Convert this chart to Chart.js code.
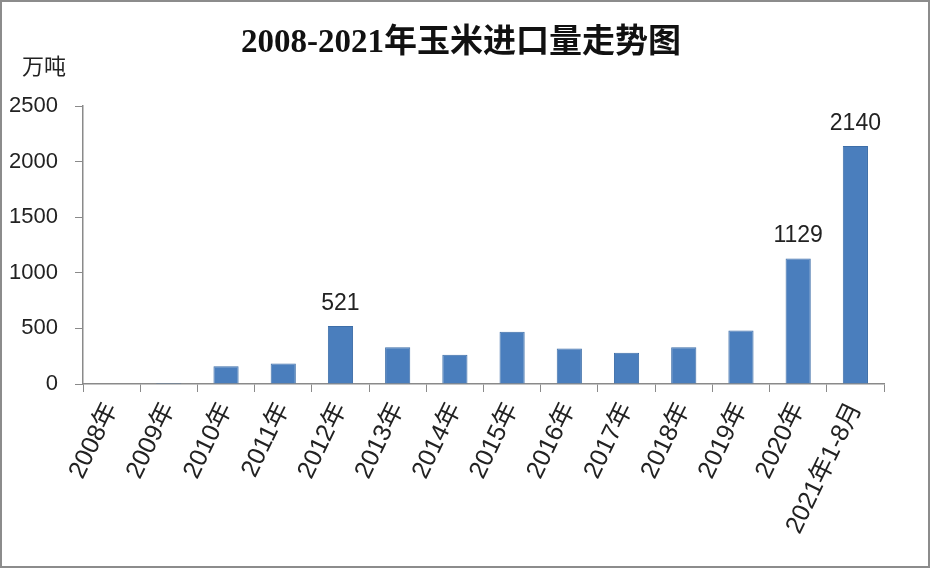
<!DOCTYPE html>
<html>
<head>
<meta charset="utf-8">
<script src="https://cdn.jsdelivr.net/npm/chart.js@4/dist/chart.umd.min.js"></script>
<style>
  html, body { margin: 0; padding: 0; background: #fff; }
  #wrap { position: relative; width: 930px; height: 568px; }
  #frame { position: absolute; left: 0; top: 0; width: 930px; height: 568px; box-sizing: border-box; border: 2px solid #8c8c8c; pointer-events: none; }
</style>
</head>
<body>
<div id="wrap">
  <canvas id="chart" width="930" height="568"></canvas>
  <div id="frame"></div>
</div>
<script>
// categories and values (万吨)
const years = ['2008年', '2009年', '2010年', '2011年', '2012年', '2013年', '2014年',
               '2015年', '2016年', '2017年', '2018年', '2019年', '2020年', '2021年1-8月'];
const imports = [5, 8, 160, 185, 521, 330, 264, 470, 320, 280, 330, 480, 1129, 2140];
// only some bars carry a value label
const valueLabels = ['', '', '', '', '521', '', '', '', '', '', '', '', '1129', '2140'];
const yTicks = [0, 500, 1000, 1500, 2000, 2500];

const titleText = '2008-2021年玉米进口量走势图';
const unitText = '万吨';
const textFont = "'Liberation Sans', 'Noto Sans CJK SC', sans-serif";

// title, unit label and the labels above the bars
const extraText = {
    id: 'extraText',
    afterDatasetsDraw(chart) {
        const ctx = chart.ctx;
        ctx.save();
        ctx.fillStyle = '#111';
        ctx.font = "bold 33px 'Liberation Serif', 'Noto Sans CJK SC', serif";
        ctx.textAlign = 'center';
        ctx.textBaseline = 'middle';
        ctx.fillText(titleText, 461, 43);

        ctx.fillStyle = '#222';
        ctx.font = '22px ' + textFont;
        ctx.textAlign = 'left';
        ctx.fillText(unitText, 22, 68);

        ctx.font = '23px ' + textFont;
        ctx.textAlign = 'center';
        ctx.textBaseline = 'alphabetic';
        const bars = chart.getDatasetMeta(0).data;
        bars.forEach(function(bar, i) {
            if (valueLabels[i]) {
                ctx.fillText(valueLabels[i], bar.x, bar.y - 16);
            }
        });
        ctx.restore();
    }
};

const ctx = document.getElementById('chart').getContext('2d');
new Chart(ctx, {
    type: 'bar',
    data: {
        labels: years,
        datasets: [{
            data: imports,
            backgroundColor: '#4a7ebd',
            borderColor: '#3d6ea8',
            borderWidth: 1,
            barPercentage: 0.44,
            categoryPercentage: 1
        }]
    },
    options: {
        responsive: false,
        animation: false,
        layout: { padding: { left: 0, right: 46, top: 106, bottom: 0 } },
        plugins: {
            legend: { display: false },
            tooltip: { enabled: false },
            title: { display: false }
        },
        scales: {
            x: {
                grid: { offset: true, drawOnChartArea: false, tickLength: 8, color: '#8a8a8a' },
                border: { color: '#8a8a8a', width: 1.5 },
                ticks: {
                    color: '#222',
                    font: { size: 25, family: textFont },
                    minRotation: 64,
                    maxRotation: 64,
                    padding: 6,
                    autoSkip: false
                },
                afterFit(scale) { scale.height = 184; }
            },
            y: {
                min: 0,
                max: 2500,
                afterBuildTicks(scale) { scale.ticks = yTicks.map(v => ({ value: v })); },
                grid: { drawOnChartArea: false, tickLength: 8, color: '#8a8a8a' },
                border: { color: '#8a8a8a', width: 1.5 },
                ticks: {
                    color: '#222',
                    font: { size: 22, family: textFont },
                    padding: 17,
                    callback: function(value) { return String(value); }
                },
                afterFit(scale) { scale.width = 83; }
            }
        }
    },
    plugins: [extraText]
});
</script>
</body>
</html>
